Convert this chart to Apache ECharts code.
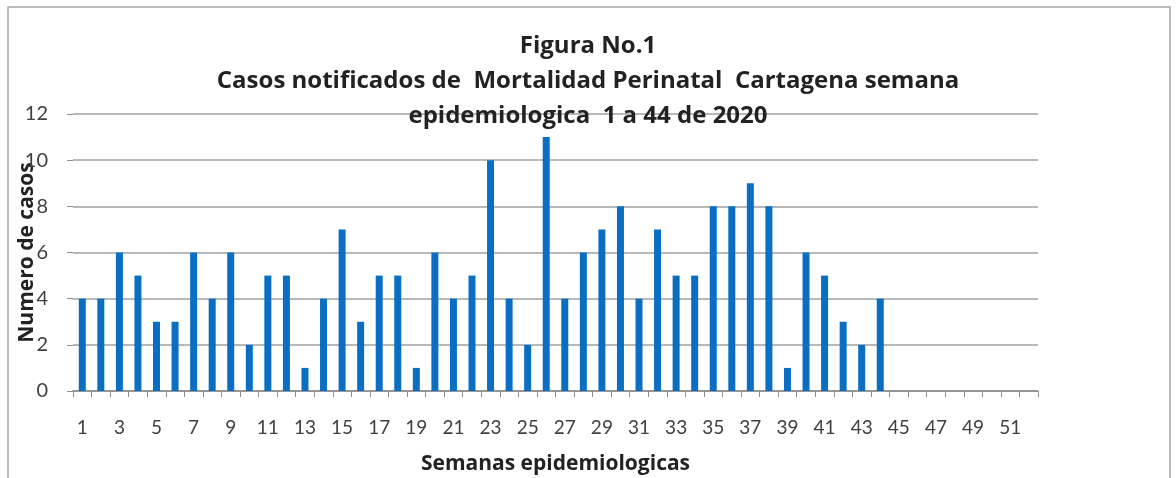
<!DOCTYPE html>
<html>
<head>
<meta charset="utf-8">
<script src="https://cdn.jsdelivr.net/npm/echarts@6/dist/echarts.min.js"></script>
<style>
    html, body { margin: 0; padding: 0; background: #fff; }
    #chart { width: 1176px; height: 478px; }
</style>
</head>
<body>
<div id="chart"></div>
<script>
// semanas epidemiologicas 1..52, datos hasta la semana 44
const weeks = [];
for (let i = 1; i <= 52; i++) weeks.push(String(i));
const cases = [4, 4, 6, 5, 3, 3, 6, 4, 6, 2, 5, 5, 1, 4, 7, 3, 5, 5, 1, 6, 4, 5,
    10, 4, 2, 11, 4, 6, 7, 8, 4, 7, 5, 5, 8, 8, 9, 8, 1, 6, 5, 3, 2, 4];
const yTicks = { min: 0, max: 12, interval: 2 };
const titleLines = ['Figura No.1', 'Casos notificados de  Mortalidad Perinatal  Cartagena semana', 'epidemiologica  1 a 44 de 2020'];

const chart = echarts.init(document.getElementById('chart'));
const font = 'Lato';
const titleStyle = { fontFamily: 'Open Sans', fontWeight: 'bold', fontSize: 24, color: '#222' };
const nameStyle = { fontFamily: 'Open Sans', fontWeight: 'bold', fontSize: 21, color: '#222' };

chart.setOption({
    animation: false,
    graphic: [{
        type: 'rect',
        shape: { x: 8, y: 7, width: 1162, height: 480 },
        style: { fill: 'none', stroke: '#a6a6a6', lineWidth: 1.5 },
        silent: true,
    }],
    title: [
        { text: titleLines[0], left: 'center', top: 29, textStyle: titleStyle },
        { text: titleLines[1], left: 'center', top: 64, textStyle: titleStyle },
        { text: titleLines[2], left: 'center', top: 99, textStyle: titleStyle },
    ],
    grid: { left: 73, right: 138, top: 114, bottom: 87, outerBoundsMode: 'none', containLabel: false },
    xAxis: {
        type: 'category',
        data: weeks,
        name: 'Semanas epidemiologicas',
        nameLocation: 'middle',
        nameGap: 63,
        nameMoveOverlap: false,
        nameTextStyle: nameStyle,
        axisLine: { lineStyle: { color: '#8c8c8c', width: 1.5 } },
        axisTick: { show: true, interval: 0, length: 6, lineStyle: { color: '#8c8c8c' } },
        axisLabel: { interval: 1, fontFamily: font, fontSize: 19, color: '#404040', margin: 27 },
    },
    yAxis: {
        type: 'value',
        min: yTicks.min,
        max: yTicks.max,
        interval: yTicks.interval,
        name: 'Numero de casos',
        nameLocation: 'middle',
        nameGap: 35,
        nameMoveOverlap: false,
        nameTextStyle: nameStyle,
        axisLine: { show: false },
        axisTick: { show: true, length: 6, lineStyle: { color: '#8c8c8c' } },
        axisLabel: { fontFamily: font, fontSize: 20, color: '#404040', margin: 25 },
        splitLine: { lineStyle: { color: '#a0a0a0', width: 1.5 } },
    },
    series: [{
        name: 'Casos',
        type: 'bar',
        data: cases,
        barWidth: 7,
        itemStyle: { color: '#0a6ec2' },
    }],
});
</script>
</body>
</html>
